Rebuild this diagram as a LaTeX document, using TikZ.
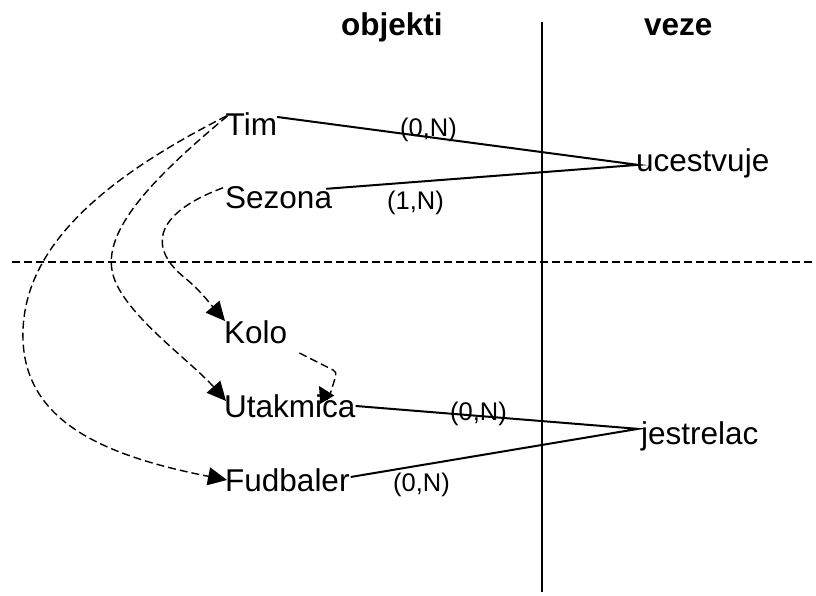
\documentclass[tikz,border=0pt]{standalone}
\usepackage{fontspec}
\setmainfont{Liberation Sans}
\usetikzlibrary{arrows.meta}
\tikzset{
  lbl/.style={anchor=base west, inner sep=0pt, font=\fontsize{31.5}{36}\selectfont},
  head/.style={anchor=base west, inner sep=0pt, font=\fontsize{31.5}{36}\selectfont\bfseries},
  card/.style={anchor=base west, inner sep=0pt, font=\fontsize{25.5}{30}\selectfont},
  rel/.style={line width=2pt, line join=miter},
  dep/.style={line width=1.4pt, dash pattern=on 8pt off 4pt, -{Triangle[length=19pt,width=18pt]}},
  sep/.style={line width=1.6pt},
  sepd/.style={line width=1.4pt, dash pattern=on 8pt off 4pt}
}
\begin{document}
\begin{tikzpicture}[x=1pt,y=-1pt]
\useasboundingbox (0,0) rectangle (816,595);
% separators
\draw[sep] (542,22) -- (542,592);
\draw[sepd] (12,262) -- (816,262);
% headers
\node[head] (objekti) at (341,35) {objekti};
\node[head] (veze) at (644,35) {veze};
% entities and relationships
\node[lbl] (tim) at (225.5,135) {Tim};
\node[lbl] (sezona) at (225,208) {Sezona};
\node[lbl] (kolo) at (224,343) {Kolo};
\node[lbl] (utak) at (224,417) {Utakmica};
\node[lbl] (fud) at (225,491) {Fudbaler};
\node[lbl] (ucest) at (636,171) {ucestvuje};
\node[lbl] (jest) at (641,444) {jestrelac};
% cardinalities
\node[card] (c1) at (400,136) {(0,N)};
\node[card] (c2) at (387,209) {(1,N)};
\node[card] (c3) at (450,420) {(0,N)};
\node[card] (c4) at (393,491) {(0,N)};
% relationship lines
\draw[rel] ([yshift=-5pt]tim.north east) -- ([xshift=2pt,yshift=-2pt]ucest.west)
  -- ([xshift=-6pt,yshift=-3pt]sezona.north east);
\draw[rel] ([yshift=-12pt]utak.north east) -- ([xshift=-3pt,yshift=7pt]jest.west)
  -- ([xshift=1pt,yshift=-9pt]fud.north east);
% dependency arrows
\draw[dep] ([xshift=1pt,yshift=-4pt]tim.north west) .. controls (100,180) and (20,250) .. (23,340)
  .. controls (26,420) and (100,455) .. ([xshift=2pt,yshift=-12pt]fud.north west);
\draw[dep] ([xshift=2pt,yshift=-4pt]tim.north west) .. controls (150,180) and (105,230) .. (112,270)
  .. controls (118,310) and (190,360) .. ([xshift=2pt,yshift=-7pt]utak.north west);
\draw[dep] ([xshift=-2pt,yshift=-2pt]sezona.north west) .. controls (150,215) and (150,250) .. (185,278)
  .. controls (200,290) and (212,306) .. ([xshift=1pt,yshift=-1pt]kolo.north west);
\coordinate (kbend) at (337,372);
\coordinate (kdown) at (328,401);
\draw[dep, -{Triangle[length=16pt,width=16pt]}]
  ([xshift=12pt,yshift=-10pt]kolo.base east) [rounded corners=4pt] -- (kbend) [sharp corners] -- (kdown)
  -- ([xshift=95pt,yshift=8pt]utak.north west);
\end{tikzpicture}
\end{document}
